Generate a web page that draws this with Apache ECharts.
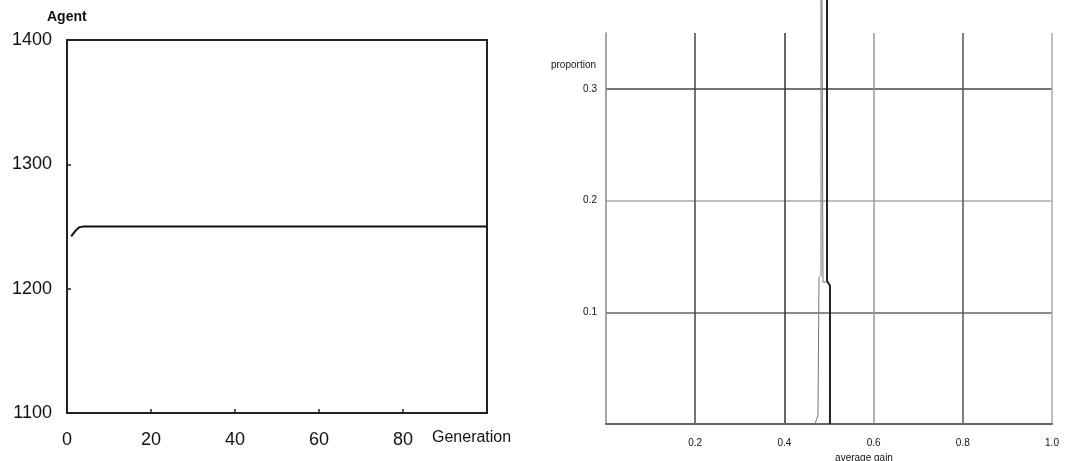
<!DOCTYPE html>
<html><head><meta charset="utf-8">
<script src="https://cdn.jsdelivr.net/npm/echarts@6/dist/echarts.min.js"></script>
<style>html,body{margin:0;padding:0;background:#fff}#c{width:1073px;height:461px}</style>
</head><body><div id="c"></div>
<script>
// Left chart: number of agents per generation
const generations = [1,2,3,4,5,6,7,8,9,10,11,12,13,14,15,16,17,18,19,20,21,22,23,24,25,26,27,28,29,30,31,32,33,34,35,36,37,38,39,40,41,42,43,44,45,46,47,48,49,50,51,52,53,54,55,56,57,58,59,60,61,62,63,64,65,66,67,68,69,70,71,72,73,74,75,76,77,78,79,80,81,82,83,84,85,86,87,88,89,90,91,92,93,94,95,96,97,98,99,100];
const agents = [1242,1246.5,1249.5,1250,1250,1250,1250,1250,1250,1250,1250,1250,1250,1250,1250,1250,1250,1250,1250,1250,1250,1250,1250,1250,1250,1250,1250,1250,1250,1250,1250,1250,1250,1250,1250,1250,1250,1250,1250,1250,1250,1250,1250,1250,1250,1250,1250,1250,1250,1250,1250,1250,1250,1250,1250,1250,1250,1250,1250,1250,1250,1250,1250,1250,1250,1250,1250,1250,1250,1250,1250,1250,1250,1250,1250,1250,1250,1250,1250,1250,1250,1250,1250,1250,1250,1250,1250,1250,1250,1250,1250,1250,1250,1250,1250,1250,1250,1250,1250,1250];

// Right chart: proportion by average gain (two traced outlines)
const gainThinX = [0.4686,0.4753,0.4776,0.4821,0.4821,0.4865,0.4865,0.4955];
const gainThinY = [0,0.008,0.131,0.133,0.6,0.6,0.127,0.127];
const gainThickX = [0.4955,0.4955,0.5022,0.5022];
const gainThickY = [0.6,0.128,0.124,0];

const xLabelsRight = ['0.2','0.4','0.6','0.8','1.0'];
const yLabelsRight = ['0.1','0.2','0.3'];

const pair = (xs, ys) => xs.map((x, i) => [x, ys[i]]);

const chart = echarts.init(document.getElementById('c'), null, {renderer: 'canvas'});
const FONT = 'Liberation Sans';
chart.setOption({
  animation: false,
  backgroundColor: '#fff',
  grid: [
    {left: 67, top: 40, width: 420, height: 373, show: true, borderColor: '#222', borderWidth: 2, backgroundColor: 'transparent', containLabel: false, outerBoundsMode: 'none'},
    {left: 606, top: 33, width: 446, height: 391, containLabel: false, outerBoundsMode: 'none'}
  ],
  xAxis: [
    {
      gridIndex: 0, type: 'value', min: 0, max: 100, interval: 20,
      name: 'Generation', nameLocation: 'end', nameGap: -55,
      nameTextStyle: {fontFamily: FONT, fontSize: 16, color: '#111', verticalAlign: 'top', padding: [17, 0, 0, 0]},
      axisLine: {show: true, lineStyle: {color: '#222', width: 2}},
      axisTick: {show: true, inside: true, length: 4, lineStyle: {color: '#222', width: 1.5}},
      axisLabel: {fontFamily: FONT, fontSize: 18, color: '#111', margin: 18,
        formatter: v => v >= 100 ? '' : String(v)},
      splitLine: {show: false}
    },
    {
      gridIndex: 1, type: 'value', min: 0, max: 1, interval: 0.2,
      name: 'average gain', nameLocation: 'middle', nameGap: 24,
      nameTextStyle: {fontFamily: FONT, fontSize: 10, color: '#111', padding: [0, 0, 0, 70]},
      axisLine: {show: true, lineStyle: {color: '#666', width: 2}},
      axisTick: {show: false},
      axisLabel: {fontFamily: FONT, fontSize: 10, color: '#111', margin: 14,
        formatter: v => { const i = Math.round(v / 0.2) - 1; return i >= 0 ? xLabelsRight[i] : ''; }},
      splitLine: {show: true, showMinLine: false, showMaxLine: true,
        lineStyle: {color: ['#444', '#333', '#999', '#555', '#aaa'], width: 1.5}}
    }
  ],
  yAxis: [
    {
      gridIndex: 0, type: 'value', min: 1100, max: 1400, interval: 100,
      name: 'Agent', nameLocation: 'end', nameGap: 16,
      nameTextStyle: {fontFamily: FONT, fontSize: 14, fontWeight: 'bold', color: '#111', align: 'left', padding: [0, 0, 0, -20]},
      axisLine: {show: true, lineStyle: {color: '#222', width: 2}},
      axisTick: {show: true, inside: true, length: 4, lineStyle: {color: '#222', width: 1.5}},
      axisLabel: {fontFamily: FONT, fontSize: 18, color: '#111', margin: 15, formatter: v => String(v)},
      splitLine: {show: false}
    },
    {
      gridIndex: 1, type: 'value', min: 0, max: 0.35, interval: 0.1,
      name: 'proportion', nameLocation: 'end', nameGap: -37,
      nameTextStyle: {fontFamily: FONT, fontSize: 10, color: '#111', align: 'right', padding: [0, 10, 0, 0]},
      axisLine: {show: true, lineStyle: {color: '#888', width: 1.5}},
      axisTick: {show: false},
      axisLabel: {fontFamily: FONT, fontSize: 10, color: '#111', margin: 9,
        formatter: v => { const i = Math.round(v * 10) - 1; return (v < 0.32 && i >= 0 && i < 3) ? yLabelsRight[i] : ''; }},
      splitLine: {show: true, showMinLine: false, showMaxLine: false,
        lineStyle: {color: ['#666', '#aaa', '#444'], width: 1.5}}
    }
  ],
  series: [
    {
      type: 'line', xAxisIndex: 0, yAxisIndex: 0, showSymbol: false, smooth: false,
      data: pair(generations, agents),
      lineStyle: {color: '#111', width: 2}
    },
    {
      type: 'line', xAxisIndex: 1, yAxisIndex: 1, showSymbol: false, clip: false,
      data: pair(gainThinX, gainThinY),
      lineStyle: {color: '#777', width: 1}
    },
    {
      type: 'line', xAxisIndex: 1, yAxisIndex: 1, showSymbol: false, clip: false,
      data: pair(gainThickX, gainThickY),
      lineStyle: {color: '#222', width: 2}
    }
  ]
});
</script></body></html>
